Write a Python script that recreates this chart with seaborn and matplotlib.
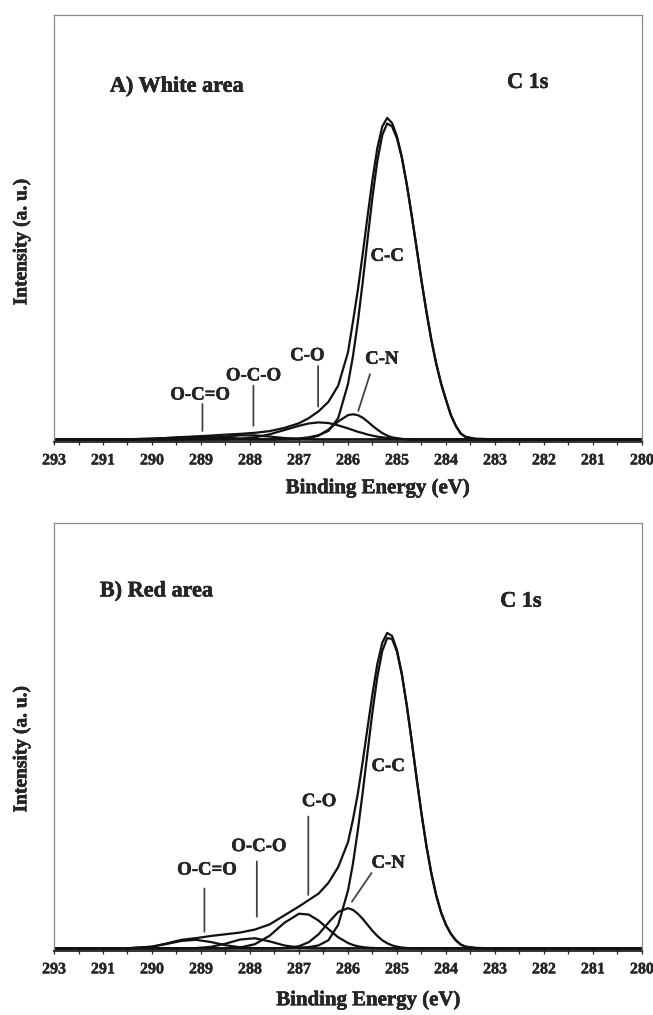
import matplotlib
matplotlib.use("Agg")
import matplotlib.pyplot as plt
import matplotlib.patheffects as pe
import numpy as np
import pandas as pd
import seaborn as sns

# ──────────────────────────────────────────────────────────────
# Data: binding energy grid and fitted curves
# intensity is in arbitrary units, 0 = x axis, 100 = top of frame
# ──────────────────────────────────────────────────────────────
ENERGY = [292.0, 291.5, 291.0, 290.5, 290.0, 289.7, 289.4, 289.1, 288.8, 288.5,
          288.2, 287.9, 287.6, 287.3, 287.0, 286.8, 286.6, 286.4, 286.2, 286.0,
          285.9, 285.8, 285.7, 285.6, 285.5, 285.4, 285.3, 285.2, 285.1, 285.0,
          284.9, 284.8, 284.7, 284.6, 284.5, 284.4, 284.3, 284.2, 284.1, 284.0,
          283.9, 283.8, 283.7, 283.6, 283.4, 283.0, 282.0, 281.0, 280.0]

TICK_POS = [292, 291, 290, 289, 288, 287, 286, 285, 284, 283, 282, 281, 280]
TICK_LABELS = ["293", "291", "290", "289", "288", "287", "286",
               "285", "284", "283", "282", "281", "280"]

# A) White area
A_ENVELOPE = [0.62, 0.62, 0.63, 0.66, 0.8, 0.95, 1.15, 1.32, 1.51, 1.73,
              1.91, 2.16, 2.55, 3.3, 4.4, 5.6, 7.2, 9.4, 13.2, 21.0,
              28.1, 35.5, 44.0, 52.9, 61.5, 68.9, 73.9, 75.9, 74.7, 71.6,
              66.7, 60.4, 53.1, 45.5, 37.8, 30.6, 24.0, 18.4, 13.7, 9.9,
              6.3, 3.8, 2.0, 1.2, 0.75, 0.65, 0.6, 0.6, 0.6]
A_CC = [0.6, 0.6, 0.6, 0.6, 0.6, 0.6, 0.6, 0.6, 0.6, 0.6,
        0.6, 0.6, 0.6, 0.7, 0.85, 1.1, 1.6, 2.6, 5.6, 13.6,
        20.0, 28.0, 37.4, 47.5, 57.4, 65.9, 71.9, 74.6, 73.9, 71.1,
        66.5, 60.3, 53.1, 45.5, 37.8, 30.6, 24.0, 18.4, 13.7, 9.9,
        6.3, 3.8, 2.0, 1.2, 0.75, 0.65, 0.6, 0.6, 0.6]
A_CN = [0.6, 0.6, 0.6, 0.6, 0.6, 0.6, 0.6, 0.6, 0.6, 0.6,
        0.6, 0.6, 0.6, 0.6, 0.65, 0.9, 1.5, 2.9, 4.8, 6.3,
        6.5, 6.3, 5.7, 4.8, 3.8, 2.9, 2.1, 1.5, 1.1, 0.9,
        0.72, 0.65, 0.6, 0.6, 0.6, 0.6, 0.6, 0.6, 0.6, 0.6,
        0.6, 0.6, 0.6, 0.6, 0.6, 0.6, 0.6, 0.6, 0.6]
A_CO = [0.6, 0.6, 0.6, 0.6, 0.6, 0.6, 0.6, 0.6, 0.62, 0.65,
        0.75, 1.1, 1.8, 2.8, 3.8, 4.35, 4.6, 4.45, 3.9, 3.2,
        2.8, 2.4, 2.1, 1.75, 1.5, 1.25, 1.1, 0.95, 0.85, 0.75,
        0.7, 0.65, 0.6, 0.6, 0.6, 0.6, 0.6, 0.6, 0.6, 0.6,
        0.6, 0.6, 0.6, 0.6, 0.6, 0.6, 0.6, 0.6, 0.6]
A_OCO = [0.6, 0.6, 0.6, 0.6, 0.6, 0.6, 0.63, 0.72, 0.94, 1.28,
         1.56, 1.56, 1.28, 0.94, 0.72, 0.65, 0.6, 0.6, 0.6, 0.6,
         0.6, 0.6, 0.6, 0.6, 0.6, 0.6, 0.6, 0.6, 0.6, 0.6,
         0.6, 0.6, 0.6, 0.6, 0.6, 0.6, 0.6, 0.6, 0.6, 0.6,
         0.6, 0.6, 0.6, 0.6, 0.6, 0.6, 0.6, 0.6, 0.6]
A_OCEO = [0.6, 0.6, 0.6, 0.63, 0.77, 0.93, 1.1, 1.2, 1.15, 1.0,
          0.82, 0.7, 0.63, 0.6, 0.6, 0.6, 0.6, 0.6, 0.6, 0.6,
          0.6, 0.6, 0.6, 0.6, 0.6, 0.6, 0.6, 0.6, 0.6, 0.6,
          0.6, 0.6, 0.6, 0.6, 0.6, 0.6, 0.6, 0.6, 0.6, 0.6,
          0.6, 0.6, 0.6, 0.6, 0.6, 0.6, 0.6, 0.6, 0.6]

# B) Red area
B_ENVELOPE = [0.6, 0.6, 0.6, 0.62, 1.0, 1.75, 2.6, 3.0, 3.5, 3.9,
              4.3, 5.0, 6.2, 8.3, 10.4, 11.9, 13.4, 15.9, 19.6, 25.4,
              30.6, 36.7, 44.2, 52.2, 60.1, 67.1, 72.0, 74.3, 73.6, 70.3,
              64.7, 57.4, 49.1, 40.4, 32.1, 24.6, 18.2, 13.0, 9.0, 6.1,
              4.0, 2.5, 1.5, 1.0, 0.7, 0.62, 0.6, 0.6, 0.6]
B_CC = [0.6, 0.6, 0.6, 0.6, 0.6, 0.6, 0.6, 0.6, 0.6, 0.6,
        0.6, 0.6, 0.6, 0.65, 0.75, 0.9, 1.3, 2.5, 6.1, 14.1,
        20.3, 28.1, 37.0, 46.5, 55.9, 64.1, 70.1, 73.1, 72.9, 69.9,
        64.5, 57.3, 49.1, 40.4, 32.1, 24.6, 18.2, 13.0, 9.0, 6.1,
        4.0, 2.5, 1.5, 1.0, 0.7, 0.62, 0.6, 0.6, 0.6]
B_CN = [0.6, 0.6, 0.6, 0.6, 0.6, 0.6, 0.6, 0.6, 0.6, 0.6,
        0.6, 0.6, 0.6, 0.66, 1.1, 2.05, 3.9, 6.6, 9.1, 10.0,
        9.6, 8.7, 7.5, 6.1, 4.7, 3.5, 2.5, 1.8, 1.3, 1.0,
        0.8, 0.7, 0.62, 0.6, 0.6, 0.6, 0.6, 0.6, 0.6, 0.6,
        0.6, 0.6, 0.6, 0.6, 0.6, 0.6, 0.6, 0.6, 0.6]
B_CO = [0.6, 0.6, 0.6, 0.6, 0.6, 0.6, 0.6, 0.6, 0.6, 0.63,
        0.82, 1.58, 3.55, 6.56, 8.7, 8.5, 7.1, 5.1, 3.2, 1.86,
        1.4, 1.1, 0.9, 0.77, 0.7, 0.65, 0.6, 0.6, 0.6, 0.6,
        0.6, 0.6, 0.6, 0.6, 0.6, 0.6, 0.6, 0.6, 0.6, 0.6,
        0.6, 0.6, 0.6, 0.6, 0.6, 0.6, 0.6, 0.6, 0.6]
B_OCO = [0.6, 0.6, 0.6, 0.6, 0.6, 0.6, 0.6, 0.67, 0.96, 1.7,
         2.67, 2.97, 2.24, 1.29, 0.78, 0.65, 0.6, 0.6, 0.6, 0.6,
         0.6, 0.6, 0.6, 0.6, 0.6, 0.6, 0.6, 0.6, 0.6, 0.6,
         0.6, 0.6, 0.6, 0.6, 0.6, 0.6, 0.6, 0.6, 0.6, 0.6,
         0.6, 0.6, 0.6, 0.6, 0.6, 0.6, 0.6, 0.6, 0.6]
B_OCEO = [0.6, 0.6, 0.6, 0.63, 1.0, 1.63, 2.35, 2.6, 2.09, 1.34,
          0.85, 0.65, 0.6, 0.6, 0.6, 0.6, 0.6, 0.6, 0.6, 0.6,
          0.6, 0.6, 0.6, 0.6, 0.6, 0.6, 0.6, 0.6, 0.6, 0.6,
          0.6, 0.6, 0.6, 0.6, 0.6, 0.6, 0.6, 0.6, 0.6, 0.6,
          0.6, 0.6, 0.6, 0.6, 0.6, 0.6, 0.6, 0.6, 0.6]

# ──────────────────────────────────────────────────────────────
# Style
# ──────────────────────────────────────────────────────────────
sns.set_theme(style="white")
plt.rcParams["font.family"] = ["Liberation Serif", "DejaVu Serif"]
plt.rcParams["font.weight"] = "bold"

# slight stroke to mimic the heavy scanned Times Bold lettering
HEAVY = [pe.withStroke(linewidth=0.35, foreground="black")]
LABEL_KW = dict(fontsize=13.5, fontweight="bold", ha="center", va="center",
                path_effects=HEAVY)
TITLE_KW = dict(fontsize=16, fontweight="bold", va="center", path_effects=HEAVY)
LEADER_KW = dict(arrowstyle="-", color="#444444", lw=1.3, shrinkA=0, shrinkB=0)


def to_long(curves):
    frames = []
    for name, values in curves.items():
        frames.append(pd.DataFrame({"energy": ENERGY, "intensity": values,
                                    "curve": name}))
    return pd.concat(frames, ignore_index=True)


def style_axes(ax, xlabel_x, xlabel_y, ylabel_y):
    ax.set_xlim(292, 280)
    ax.set_ylim(0, 100)
    ax.set_xticks(TICK_POS)
    ax.set_xticklabels(TICK_LABELS, fontsize=11.5, fontweight="bold")
    for lbl in ax.get_xticklabels():
        lbl.set_path_effects([pe.withStroke(linewidth=0.25, foreground="black")])
    ax.set_xticks(np.arange(280, 292.01, 0.5), minor=True)
    ax.tick_params(axis="x", which="both", direction="inout", length=5,
                   width=0.9, color="#222222", bottom=True, pad=5)
    ax.set_yticks([])
    for side in ["top", "right", "left"]:
        ax.spines[side].set_color("#8a8a8a")
        ax.spines[side].set_linewidth(0.9)
    ax.spines["bottom"].set_color("#222222")
    ax.spines["bottom"].set_linewidth(1.3)

    ax.set_xlabel("Binding Energy (eV)", fontsize=15, fontweight="bold")
    ax.xaxis.label.set_va("center")
    ax.xaxis.label.set_path_effects(HEAVY)
    ax.xaxis.set_label_coords(xlabel_x, xlabel_y)
    ax.set_ylabel("Intensity (a. u.)", fontsize=14, fontweight="bold")
    ax.yaxis.label.set_va("center")
    ax.yaxis.label.set_path_effects(HEAVY)
    ax.yaxis.set_label_coords(-0.055, ylabel_y)


def leader(ax, x0, y0, x1, y1):
    ax.annotate("", xy=(x1, y1), xytext=(x0, y0), arrowprops=LEADER_KW)


fig = plt.figure(figsize=(6.53, 10.15), dpi=100)
ax_a = fig.add_axes([0.0827, 0.5645, 0.9004, 0.4207])
ax_b = fig.add_axes([0.0827, 0.0631, 0.9004, 0.4217])

# ── Panel A ──────────────────────────────────────────────────
df_a = to_long({"envelope": A_ENVELOPE, "C-C": A_CC, "C-N": A_CN,
                "C-O": A_CO, "O-C-O": A_OCO, "O-C=O": A_OCEO})
sns.lineplot(data=df_a, x="energy", y="intensity", units="curve",
             estimator=None, sort=False, color="#111111", lw=1.6, ax=ax_a)
style_axes(ax_a, 0.551, -0.108, 0.469)

ax_a.text(0.095, 83.2, "A) White area", transform=ax_a.get_yaxis_transform(),
          ha="left", **TITLE_KW)
ax_a.text(282.33, 84.1, "C 1s", ha="center", **TITLE_KW)
ax_a.text(285.20, 43.5, "C-C", **LABEL_KW)
ax_a.text(285.31, 19.4, "C-N", **LABEL_KW)
ax_a.text(286.83, 20.2, "C-O", **LABEL_KW)
ax_a.text(287.93, 15.5, "O-C-O", **LABEL_KW)
ax_a.text(289.02, 11.0, "O-C=O", **LABEL_KW)
leader(ax_a, 285.55, 15.9, 285.79, 7.3)
leader(ax_a, 286.61, 17.8, 286.61, 8.3)
leader(ax_a, 287.93, 13.2, 287.93, 3.8)
leader(ax_a, 288.97, 8.9, 288.97, 2.6)

# ── Panel B ──────────────────────────────────────────────────
df_b = to_long({"envelope": B_ENVELOPE, "C-C": B_CC, "C-N": B_CN,
                "C-O": B_CO, "O-C-O": B_OCO, "O-C=O": B_OCEO})
sns.lineplot(data=df_b, x="energy", y="intensity", units="curve",
             estimator=None, sort=False, color="#111111", lw=1.6, ax=ax_b)
style_axes(ax_b, 0.535, -0.115, 0.472)

ax_b.text(0.078, 84.0, "B) Red area", transform=ax_b.get_yaxis_transform(),
          ha="left", **TITLE_KW)
ax_b.text(282.47, 81.6, "C 1s", ha="center", **TITLE_KW)
ax_b.text(285.18, 43.1, "C-C", **LABEL_KW)
ax_b.text(285.18, 20.5, "C-N", **LABEL_KW)
ax_b.text(286.59, 34.9, "C-O", **LABEL_KW)
ax_b.text(287.82, 24.4, "O-C-O", **LABEL_KW)
ax_b.text(288.88, 18.9, "O-C=O", **LABEL_KW)
leader(ax_b, 285.52, 18.2, 285.92, 11.5)
leader(ax_b, 286.81, 31.4, 286.81, 13.1)
leader(ax_b, 287.86, 20.9, 287.86, 8.0)
leader(ax_b, 288.93, 14.6, 288.93, 4.5)

fig.savefig("out.png", dpi=100)
plt.close(fig)
